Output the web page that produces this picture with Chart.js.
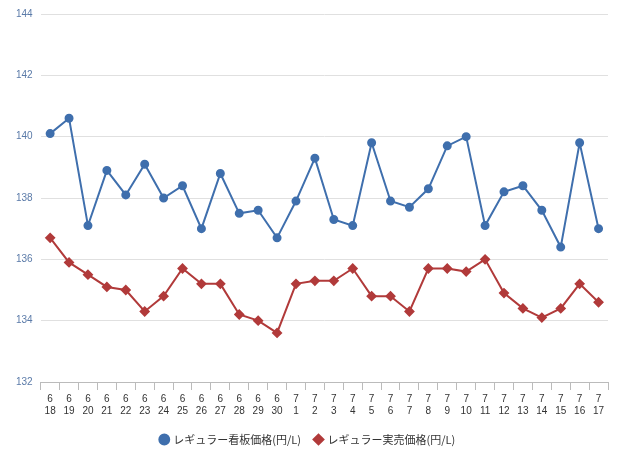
<!DOCTYPE html>
<html><head><meta charset="utf-8">
<script src="https://cdn.jsdelivr.net/npm/chart.js@4/dist/chart.umd.min.js"></script>
<style>html,body{margin:0;padding:0;background:#fff}#w{width:640px;height:461px}</style>
</head><body><div id="w"><canvas id="c"></canvas></div>
<script>
const categories=[["6","18"],["6","19"],["6","20"],["6","21"],["6","22"],["6","23"],["6","24"],["6","25"],["6","26"],["6","27"],["6","28"],["6","29"],["6","30"],["7","1"],["7","2"],["7","3"],["7","4"],["7","5"],["7","6"],["7","7"],["7","8"],["7","9"],["7","10"],["7","11"],["7","12"],["7","13"],["7","14"],["7","15"],["7","16"],["7","17"]];
const signPrice=[140.1,140.6,137.1,138.9,138.1,139.1,138.0,138.4,137.0,138.8,137.5,137.6,136.7,137.9,139.3,137.3,137.1,139.8,137.9,137.7,138.3,139.7,140.0,137.1,138.2,138.4,137.6,136.4,139.8,137.0];
const realPrice=[136.7,135.9,135.5,135.1,135.0,134.3,134.8,135.7,135.2,135.2,134.2,134.0,133.6,135.2,135.3,135.3,135.7,134.8,134.8,134.3,135.7,135.7,135.6,136.0,134.9,134.4,134.1,134.4,135.2,134.6];
const yTicks=[132,134,136,138,140,142,144];
new Chart(document.getElementById('c'),{type:'line',
data:{labels:categories,datasets:[
{label:'レギュラー看板価格(円/L)',data:signPrice,borderColor:'#3f6fad',backgroundColor:'#3f6fad',borderWidth:2,pointRadius:3.5,pointStyle:'circle',tension:0},
{label:'レギュラー実売価格(円/L)',data:realPrice,borderColor:'#b13a3a',backgroundColor:'#b13a3a',borderWidth:2,pointRadius:4,pointStyle:'rectRot',tension:0}]},
options:{responsive:true,maintainAspectRatio:false,animation:false,
layout:{padding:{left:8,right:32,top:6,bottom:6}},
plugins:{legend:{position:'bottom',labels:{usePointStyle:true,boxWidth:7,boxHeight:7,color:'#333',font:{family:'Noto Sans CJK JP',size:11},padding:14}},tooltip:{enabled:false}},
scales:{
x:{offset:true,grid:{display:true,drawOnChartArea:false,drawTicks:true,tickLength:8,color:'#bbb',offset:true},border:{color:'#bbb'},ticks:{color:'#333',font:{size:10,family:'Liberation Sans'},maxRotation:0,autoSkip:false}},
y:{min:132,max:144,afterBuildTicks:a=>{a.ticks=yTicks.map(v=>({value:v}));},grid:{color:'#e0e0e0',drawTicks:false},border:{display:false},ticks:{color:'#5a7aa8',font:{size:10,family:'Liberation Sans'},padding:8}}
}}});
</script></body></html>
